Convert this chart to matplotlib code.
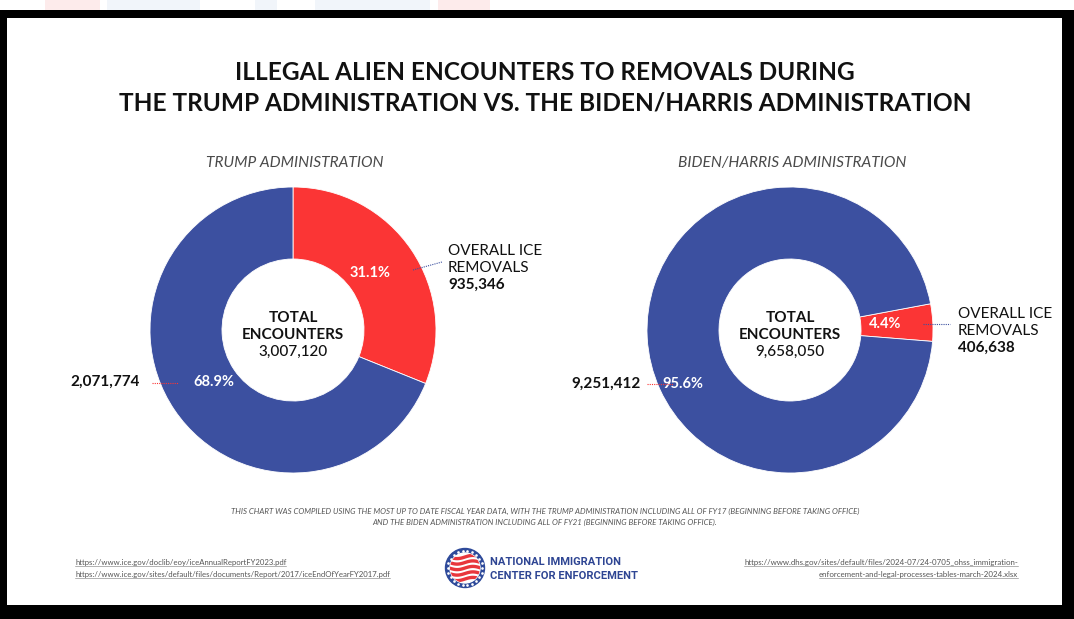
import matplotlib
matplotlib.use("Agg")
import matplotlib.pyplot as plt
import matplotlib.patches as mpatches
import numpy as np

# ---------------- data ----------------
title_lines = ["ILLEGAL ALIEN ENCOUNTERS TO REMOVALS DURING",
               "THE TRUMP ADMINISTRATION VS. THE BIDEN/HARRIS ADMINISTRATION"]
panel_titles = ["TRUMP ADMINISTRATION", "BIDEN/HARRIS ADMINISTRATION"]
categories = ["OVERALL ICE REMOVALS", "OTHER ENCOUNTERS"]
trump_values = [935346, 2071774]
biden_values = [406638, 9251412]
trump_total = "3,007,120"
biden_total = "9,658,050"
trump_pct_labels = ["31.1%", "68.9%"]
biden_pct_labels = ["4.4%", "95.6%"]
trump_value_labels = ["935,346", "2,071,774"]
biden_value_labels = ["406,638", "9,251,412"]
footnote = ["THIS CHART WAS COMPILED USING THE MOST UP TO DATE FISCAL YEAR DATA, WITH THE TRUMP ADMINISTRATION INCLUDING ALL OF FY17 (BEGINNING BEFORE TAKING OFFICE)",
            "AND THE BIDEN ADMINISTRATION INCLUDING ALL OF FY21 (BEGINNING BEFORE TAKING OFFICE)."]
links_left = ["https://www.ice.gov/doclib/eoy/iceAnnualReportFY2023.pdf",
              "https://www.ice.gov/sites/default/files/documents/Report/2017/iceEndOfYearFY2017.pdf"]
links_right = ["https://www.dhs.gov/sites/default/files/2024-07/24-0705_ohss_immigration-",
               "enforcement-and-legal-processes-tables-march-2024.xlsx"]
logo_lines = ["NATIONAL IMMIGRATION", "CENTER FOR ENFORCEMENT"]

# ---------------- style ----------------
BLUE = "#3C50A0"
RED = "#FB3535"
W, H = 1074, 619
FONT = "Lato"

fig = plt.figure(figsize=(W / 100, H / 100), dpi=100)
ax = fig.add_axes([0, 0, 1, 1])


def Y(y):
    return H - y


# background frame
ax.add_patch(mpatches.Rectangle((0, 0), W, H, color="white", zorder=0))
for (x0, x1, c) in [(45, 100, "#FDEBEB"), (107, 200, "#F1F5FA"), (255, 277, "#F1F5FA"),
                    (315, 430, "#F1F5FA"), (438, 490, "#FDEBEB")]:
    ax.add_patch(mpatches.Rectangle((x0, Y(10)), x1 - x0, 10, color=c, zorder=0.5, lw=0))
ax.add_patch(mpatches.Rectangle((0, 0), W, Y(10), color="black", zorder=0.6, lw=0))
ax.add_patch(mpatches.Rectangle((7, Y(605)), 1055, 605 - 18, color="white", zorder=0.7, lw=0))

# titles
for i, line in enumerate(title_lines):
    ax.text(545, Y(72 + 31 * i), line, ha="center", va="center", fontsize=17.6,
            fontweight="bold", family=FONT, color="#111111")

centers = [(293, 330), (790, 330)]
R_OUT, R_IN = 143, 71
datasets = [trump_values, biden_values]
startangles = [90, 3 + 360 * biden_values[0] / sum(biden_values) / 2]

for (cx, cy), vals, sa, pt in zip(centers, datasets, startangles, panel_titles):
    ax.pie(vals, colors=[RED, BLUE], startangle=sa, counterclock=False,
           radius=R_OUT, center=(cx, Y(cy)), frame=True,
           wedgeprops=dict(width=R_OUT - R_IN, edgecolor="white", linewidth=0.6))
    ax.text(cx + 2, Y(163), pt, ha="center", va="center", fontsize=11.2,
            style="italic", family=FONT, color="#4a4a4a")

# centre labels
for (cx, cy), tot in zip(centers, [trump_total, biden_total]):
    ax.text(cx, Y(318), "TOTAL", ha="center", va="center", fontsize=11,
            fontweight="bold", family=FONT, color="#111111")
    ax.text(cx, Y(335), "ENCOUNTERS", ha="center", va="center", fontsize=11,
            fontweight="bold", family=FONT, color="#111111")
    ax.text(cx, Y(352), tot, ha="center", va="center", fontsize=11,
            fontweight="medium", family=FONT, color="#111111")

# percent labels
pct_pos = [[(370, 273), (214, 382)], [(885, 324), (683, 384)]]
for labels, poss in zip([trump_pct_labels, biden_pct_labels], pct_pos):
    for lab, (x, y) in zip(labels, poss):
        ax.text(x, Y(y), lab, ha="center", va="center", fontsize=10.5,
                fontweight="bold", family=FONT, color="white")

# external labels: removals
for (x, y0), vl in zip([(448, 251), (958, 314)], [trump_value_labels[0], biden_value_labels[0]]):
    ax.text(x, Y(y0), "OVERALL ICE", ha="left", va="center", fontsize=11,
            family=FONT, color="#111111")
    ax.text(x, Y(y0 + 17), "REMOVALS", ha="left", va="center", fontsize=11,
            family=FONT, color="#111111")
    ax.text(x, Y(y0 + 34), vl, ha="left", va="center", fontsize=11,
            fontweight="bold", family=FONT, color="#111111")

# external labels: others
for (x, y), vl in zip([(140, 382), (641, 384)], [trump_value_labels[1], biden_value_labels[1]]):
    ax.text(x, Y(y), vl, ha="right", va="center", fontsize=11,
            fontweight="bold", family=FONT, color="#111111")

# leader lines
dot = dict(linestyle=(0, (1, 1)), linewidth=0.8, zorder=5)
ax.plot([413, 442], [Y(270), Y(262)], color=BLUE, **dot)
ax.plot([152, 178], [Y(383), Y(383)], color=RED, **dot)
ax.plot([923, 950], [Y(324), Y(324)], color=BLUE, **dot)
ax.plot([647, 673], [Y(384), Y(384)], color=RED, **dot)

# footnote
for i, line in enumerate(footnote):
    ax.text(545, Y(511 + 11 * i), line, ha="center", va="center", fontsize=5.7,
            style="italic", family=FONT, color="#555555")

# links
link_texts = []
for i, line in enumerate(links_left):
    link_texts.append(ax.text(75, Y(563 + 12 * i), line, ha="left", va="center",
                              fontsize=5.6, family=FONT, color="#555555"))
for i, line in enumerate(links_right):
    link_texts.append(ax.text(1018, Y(563 + 12 * i), line, ha="right", va="center",
                              fontsize=5.65, family=FONT, color="#555555"))

# logo
lx, ly = 465, 568
ax.add_patch(mpatches.Circle((lx, Y(ly)), 19.5, color="#2E4A9A", zorder=3))
inner = mpatches.Circle((lx, Y(ly)), 15, color="white", zorder=4)
ax.add_patch(inner)
for ang in np.linspace(0, 2 * np.pi, 22, endpoint=False):
    ax.plot(lx + 17.2 * np.cos(ang), Y(ly) + 17.2 * np.sin(ang), marker="o",
            ms=0.9, color="white", zorder=4)
xs = np.linspace(lx - 16, lx + 16, 80)
for k in range(5):
    base = Y(ly) + 11 - k * 5.5
    line, = ax.plot(xs, base + 1.6 * np.sin((xs - lx) / 5.0), color="#E8363C",
                    linewidth=2.4, zorder=5, solid_capstyle="butt")
    line.set_clip_path(inner)
for i, t in enumerate(logo_lines):
    ax.text(490, Y(562 + 14 * i), t, ha="left", va="center", fontsize=8,
            fontweight="bold", family="Roboto", color="#2E4593")

ax.set_xlim(0, W)
ax.set_ylim(0, H)
ax.set_aspect("auto")
ax.axis("off")

# underline links
fig.canvas.draw()
r = fig.canvas.get_renderer()
inv = ax.transData.inverted()
for t in link_texts:
    bb = t.get_window_extent(r)
    (x0, y0), (x1, y1) = inv.transform([(bb.x0, bb.y0), (bb.x1, bb.y1)])
    ax.plot([x0, x1], [y0 + 1, y0 + 1], color="#777777", linewidth=0.4, zorder=6)

fig.savefig("out.png", dpi=100)
